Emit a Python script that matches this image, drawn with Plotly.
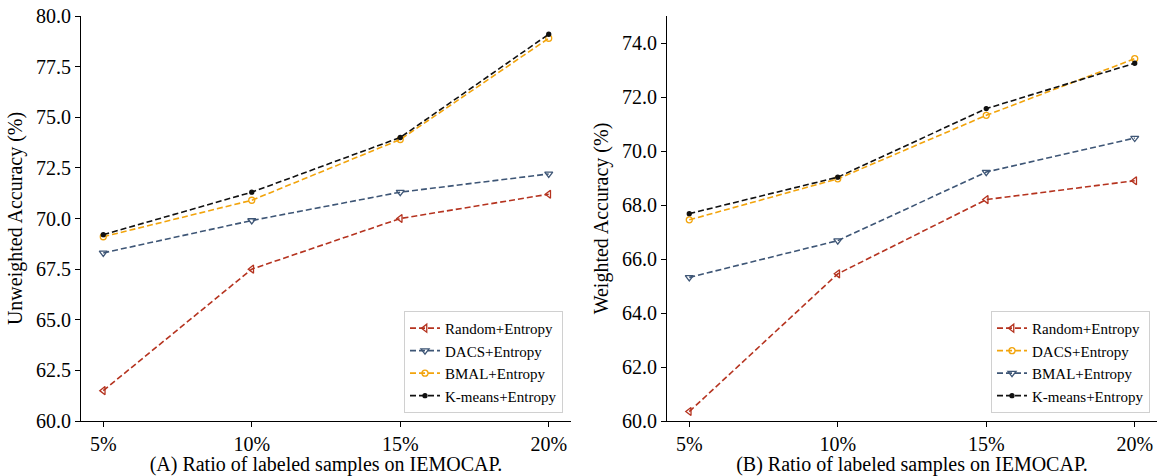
import plotly.graph_objects as go

categories = ["5%", "10%", "15%", "20%"]

# (A) Unweighted accuracy
ua_random = [61.5, 67.5, 70.0, 71.2]
ua_dacs = [68.3, 69.9, 71.3, 72.2]
ua_bmal = [69.1, 70.9, 73.9, 78.9]
ua_kmeans = [69.2, 71.3, 74.0, 79.1]

# (B) Weighted accuracy
wa_random = [60.35, 65.45, 68.2, 68.9]
wa_dacs = [67.45, 68.97, 71.32, 73.42]
wa_bmal = [65.32, 66.68, 69.22, 70.48]
wa_kmeans = [67.68, 69.03, 71.57, 73.25]

RED = "#b5331f"
BLUE = "#3e5676"
ORANGE = "#f2a40c"
BLACK = "#111111"
FONT = "Times New Roman, Liberation Serif, DejaVu Serif, serif"
DASH = "6px,3px"

fig = go.Figure()

def add(x, y, name, color, symbol, size, xa, ya, legend):
    fig.add_trace(go.Scatter(
        x=x, y=y, name=name, mode="lines+markers",
        line=dict(color=color, width=1.6, dash=DASH),
        marker=dict(symbol=symbol, size=size, color=color,
                    line=dict(color=color, width=1.3)),
        xaxis=xa, yaxis=ya, legend=legend,
    ))

add(categories, ua_random, "Random+Entropy", RED, "triangle-left-open", 7, "x", "y", "legend")
add(categories, ua_dacs, "DACS+Entropy", BLUE, "triangle-down-open", 7, "x", "y", "legend")
add(categories, ua_bmal, "BMAL+Entropy", ORANGE, "circle-open", 6, "x", "y", "legend")
add(categories, ua_kmeans, "K-means+Entropy", BLACK, "circle", 4, "x", "y", "legend")

add(categories, wa_random, "Random+Entropy", RED, "triangle-left-open", 7, "x2", "y2", "legend2")
add(categories, wa_dacs, "DACS+Entropy", ORANGE, "circle-open", 6, "x2", "y2", "legend2")
add(categories, wa_bmal, "BMAL+Entropy", BLUE, "triangle-down-open", 7, "x2", "y2", "legend2")
add(categories, wa_kmeans, "K-means+Entropy", BLACK, "circle", 4, "x2", "y2", "legend2")

W, H = 1161, 476
axis_common = dict(
    showline=True, linecolor="black", linewidth=1.2,
    ticks="outside", ticklen=5, tickwidth=1.2, tickcolor="black",
    showgrid=False, zeroline=False, automargin=False,
    tickfont=dict(family=FONT, size=20, color="black"),
)
title_font = dict(family=FONT, size=20, color="black")

fig.update_layout(
    width=W, height=H,
    margin=dict(l=0, r=0, t=16, b=55),
    plot_bgcolor="white", paper_bgcolor="white",
    font=dict(family=FONT, color="black"),
    xaxis=dict(domain=[81 / W, 571 / W], type="category", range=[-0.15, 3.15],
               title=dict(text="(A) Ratio of labeled samples on IEMOCAP.",
                          font=title_font, standoff=3),
               anchor="y", **axis_common),
    yaxis=dict(range=[60, 80], dtick=2.5, tickformat=".1f",
               title=dict(text="Unweighted Accuracy (%)",
                          font=title_font, standoff=7),
               anchor="x", **axis_common),
    xaxis2=dict(domain=[667 / W, 1157 / W], type="category", range=[-0.15, 3.15],
                title=dict(text="(B) Ratio of labeled samples on IEMOCAP.",
                           font=title_font, standoff=3),
                anchor="y2", **axis_common),
    yaxis2=dict(range=[60, 75], dtick=2, tickformat=".1f",
                title=dict(text="Weighted Accuracy (%)",
                           font=title_font, standoff=7),
                anchor="x2", **axis_common),
    legend=dict(x=563 / W, y=0.02, xanchor="right", yanchor="bottom",
                bgcolor="white", bordercolor="#d0d0d0", borderwidth=1,
                font=dict(family=FONT, size=15), tracegroupgap=0),
    legend2=dict(x=1150 / W, y=0.02, xanchor="right", yanchor="bottom",
                 bgcolor="white", bordercolor="#d0d0d0", borderwidth=1,
                 font=dict(family=FONT, size=15), tracegroupgap=0),
)

fig.write_html("out.html", config={"displayModeBar": False},
               post_script="document.body.style.margin='0';")
